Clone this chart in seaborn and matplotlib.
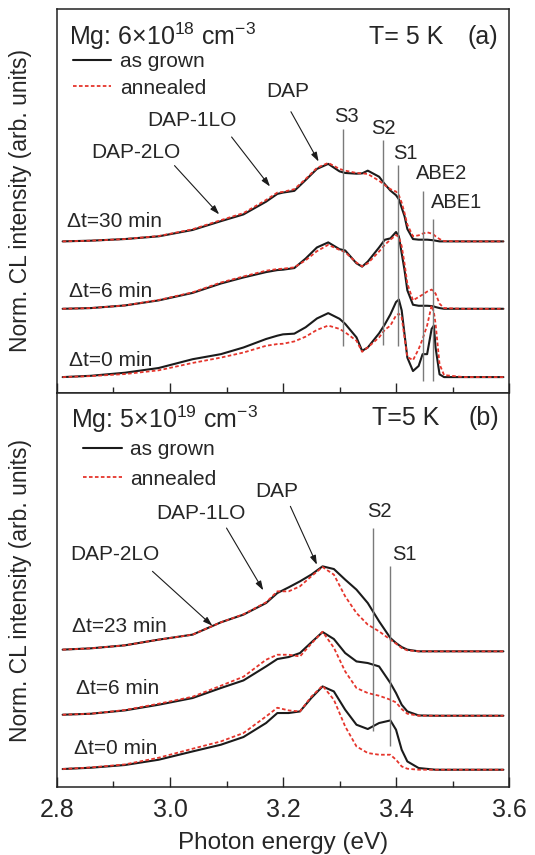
import numpy as np
import pandas as pd
import matplotlib
matplotlib.use("Agg")
import matplotlib.pyplot as plt
from matplotlib.ticker import MultipleLocator
import seaborn as sns

sns.set_style("ticks")
plt.rcParams['font.family'] = ['Liberation Sans', 'DejaVu Sans']
plt.rcParams['mathtext.fontset'] = 'custom'
plt.rcParams['mathtext.rm'] = 'Liberation Sans'
plt.rcParams['mathtext.it'] = 'Liberation Sans:italic'

# ---- panel (a): Mg 6e18 ----
energy_a = [2.81, 2.86, 2.92, 2.98, 3.04, 3.09, 3.13, 3.17, 3.19, 3.20, 3.22, 3.24, 3.26,
            3.28, 3.30, 3.31, 3.33, 3.34, 3.35, 3.37, 3.38, 3.39, 3.40, 3.405, 3.41, 3.415,
            3.42, 3.43, 3.44, 3.447, 3.455, 3.463, 3.467, 3.47, 3.477, 3.485, 3.52, 3.59]
grown_a_30 = [0, 0.7, 2.3, 5, 11.3, 20, 26.7, 39.3, 47, 48.3, 50, 60.7, 71.7, 76.7, 69.3, 67.7,
              67, 67.3, 70, 64, 56.7, 50.3, 45.7, 41.7, 33.3, 25, 12.3, 2.3, 1.7, 1.7, 1.7, 1.3,
              1, 0.7, 0, 0, 0, 0]
annealed_a_30 = [0, 0.7, 2.3, 5.3, 12, 21, 28, 41, 48.3, 49, 51.7, 61.7, 72.7, 77.7, 71.7, 70,
                 67.7, 67.3, 66.7, 60, 55.7, 51.7, 49.3, 45.7, 38.3, 28.3, 16.7, 5, 6, 7.7, 9,
                 7.7, 6.5, 5, 2.3, 0.3, 0, 0]
grown_a_6 = [0, 0.7, 3.3, 8.3, 15.7, 25, 31, 36.3, 38.3, 38.7, 40.3, 49.7, 60.7, 65.7, 59, 57.7,
             45, 41.7, 46.7, 60.7, 68.3, 69.7, 76, 71.7, 55, 38.3, 18.3, 4, 3, 3, 3, 2.7, 2.3,
             1.7, 0.7, 0, 0, 0]
annealed_a_6 = [0, 0.7, 3.3, 8.7, 16.3, 26, 32, 37.7, 39.3, 39.7, 41, 48, 57, 63.3, 58.3, 56,
                45.7, 42, 45, 56.7, 63.3, 68.3, 73, 71, 62, 45, 25, 8.3, 11.7, 14, 17, 19, 17,
                15, 5, 0.7, 0, 0]
grown_a_0 = [0, 1.3, 4.3, 9, 17.7, 22.7, 29.3, 37.7, 41, 42.3, 43, 49.3, 58, 63.3, 57.7, 52.7,
             39.3, 26, 29.3, 43.3, 52, 62, 74.3, 76.7, 66, 42.7, 19.3, 6, 11, 22.7, 22.7, 47.7,
             51, 29, 2.7, 0, 0, 0]
annealed_a_0 = [0, 1, 3, 6.7, 14, 19.3, 24.3, 31, 32.7, 33, 35.3, 40, 46.7, 51, 47.7, 44.3, 36,
                25, 29.3, 39.3, 46.7, 51, 61, 62.7, 59, 39.3, 20, 16.7, 27.7, 37.7, 51, 71, 64,
                52.7, 12.7, 2, 0, 0]
delays_a = ["\u0394t=30 min", "\u0394t=6 min", "\u0394t=0 min"]
offsets_a = [150, 83.3, 15.7]

# ---- panel (b): Mg 5e19 ----
energy_b = [2.81, 2.86, 2.92, 2.98, 3.04, 3.09, 3.13, 3.17, 3.19, 3.21, 3.23, 3.25, 3.27,
            3.29, 3.31, 3.33, 3.35, 3.37, 3.39, 3.40, 3.41, 3.42, 3.44, 3.47, 3.52, 3.59]
grown_b_23 = [1.7, 3, 6, 11.7, 16.7, 29, 36.7, 48.3, 58.3, 64, 70, 76.7, 85, 82.3, 71.7, 61.7,
              48.3, 30, 13.3, 8.3, 4.3, 1.7, 0, 0, 0, 0]
annealed_b_23 = [1.7, 3, 6, 11.7, 16.7, 29, 37, 49, 60, 60, 65, 75, 84.3, 76.7, 55, 38.3, 26.7,
                 20, 11.7, 7.7, 3.3, 1, 0, 0, 0, 0]
grown_b_6 = [1, 2, 5.3, 11, 17.7, 27.7, 35.3, 49.3, 56.7, 58.7, 62.7, 73.3, 83.7, 76.7, 62.7,
             54.3, 52.7, 49.3, 32.7, 22.7, 11, 4.3, 0.3, 0, 0, 0]
annealed_b_6 = [1, 2, 5.7, 12, 19, 30, 39, 56, 61, 61, 59.3, 72, 84, 68, 44.3, 27.7, 22.7, 20,
                16, 13.3, 6.7, 2, 0, 0, 0, 0]
grown_b_0 = [0.7, 2, 4.7, 10, 18.3, 25, 32.7, 46.7, 56.7, 56.7, 58.3, 71.7, 83.3, 78.3, 60, 45,
             40.7, 46.7, 49.3, 40, 20, 8.3, 1.7, 0, 0, 0]
annealed_b_0 = [0.7, 2.3, 5.3, 12, 21, 28.3, 36.7, 53.3, 62, 59.3, 58.3, 73, 84, 70, 43.3, 23.3,
                16.7, 15, 15, 10, 3.3, 1, 0, 0, 0, 0]
delays_b = ["\u0394t=23 min", "\u0394t=6 min", "\u0394t=0 min"]
offsets_b = [135.7, 71.3, 17.3]

BLACK = "#1b1b1b"
RED = "#e5352c"
GRAY = "#7a7a7a"


def build_frame(energy, grown, annealed, delays, offsets):
    rows = []
    for g, a, d, off in zip(grown, annealed, delays, offsets):
        for e, yg, ya in zip(energy, g, a):
            rows.append((e, yg + off, "as grown", d))
            rows.append((e, ya + off, "annealed", d))
    return pd.DataFrame(rows, columns=["energy", "signal", "sample", "delay"])


def draw_panel(ax, df, delays):
    for i, d in enumerate(delays):
        sub = df[df["delay"] == d]
        sns.lineplot(data=sub[sub["sample"] == "as grown"], x="energy", y="signal", ax=ax,
                     color=BLACK, lw=1.5, estimator=None,
                     label="as grown" if i == 0 else None)
        sns.lineplot(data=sub[sub["sample"] == "annealed"], x="energy", y="signal", ax=ax,
                     color=RED, lw=1.3, linestyle=(0, (2, 1.3)), estimator=None,
                     label="annealed" if i == 0 else None)


def style_axes(ax, ylim):
    ax.set_xlim(2.8, 3.6)
    ax.set_ylim(*ylim)
    ax.set_yticks([])
    ax.xaxis.set_major_locator(MultipleLocator(0.2))
    ax.xaxis.set_minor_locator(MultipleLocator(0.1))
    ax.tick_params(axis="x", which="major", direction="in", length=7, width=1,
                   labelsize=18, pad=8, top=False)
    ax.tick_params(axis="x", which="minor", direction="in", length=4, width=1, top=False)
    for s in ax.spines.values():
        s.set_visible(True)
        s.set_linewidth(1.1)
        s.set_color("#222222")
    ax.set_ylabel("Norm. CL intensity (arb. units)", fontsize=16.5)
    ax.yaxis.set_label_coords(-0.055, 0.5)


def arrow(ax, tail, tip):
    ax.annotate("", xy=tip, xytext=tail,
                arrowprops=dict(arrowstyle="-|>,head_length=0.55,head_width=0.18",
                                color=BLACK, lw=0.8, shrinkA=0, shrinkB=0))


fig = plt.figure(figsize=(5.35, 8.55), dpi=100)
ax_a = fig.add_axes([0.1065, 0.5404, 0.845, 0.4491])
ax_b = fig.add_axes([0.1065, 0.0795, 0.845, 0.4608])

# panel (a)
df_a = build_frame(energy_a, [grown_a_30, grown_a_6, grown_a_0],
                   [annealed_a_30, annealed_a_6, annealed_a_0], delays_a, offsets_a)
draw_panel(ax_a, df_a, delays_a)
style_axes(ax_a, (0, 380))
ax_a.set_xlabel("")
ax_a.tick_params(axis="x", labelbottom=False)
ax_a.legend(loc="upper left", bbox_to_anchor=(0.035, 0.887), frameon=False, fontsize=15,
            handlelength=1.85, handletextpad=0.4, labelspacing=0.35, borderpad=0,
            borderaxespad=0)
ax_a.text(2.821, 353, "Mg: 6\u00d710$^{18}$ cm$^{-3}$", fontsize=18, va="center")
ax_a.text(3.352, 352, "T= 5 K", fontsize=18, va="center")
ax_a.text(3.526, 352, "(a)", fontsize=18, va="center")
for lab, x, y in zip(delays_a, [2.818, 2.821, 2.821], [170, 100, 32.3]):
    ax_a.text(x, y, lab, fontsize=15, va="center")

ax_a.text(2.940, 238.3, "DAP-2LO", fontsize=15, ha="center", va="center")
arrow(ax_a, (3.008, 225), (3.087, 176.7))
ax_a.text(3.038, 270, "DAP-1LO", fontsize=15, ha="center", va="center")
arrow(ax_a, (3.109, 253.3), (3.177, 204.3))
ax_a.text(3.208, 298.3, "DAP", fontsize=15, ha="center", va="center")
arrow(ax_a, (3.214, 278.3), (3.263, 229))

marks_a = ["S3", "S2", "S1", "ABE2", "ABE1"]
mark_x_a = [3.306, 3.377, 3.404, 3.448, 3.465]
mark_top_a = [261.7, 250, 225.7, 200, 172.3]
mark_bot_a = [46.7, 47.7, 46.7, 11.7, 11.7]
lab_pos_a = [(3.313, 273.3), (3.377, 261.7), (3.416, 237.3), (3.480, 216.7), (3.508, 188.3)]
for m, x, t, b, (lx, ly) in zip(marks_a, mark_x_a, mark_top_a, mark_bot_a, lab_pos_a):
    ax_a.vlines(x, b, t, color=GRAY, lw=1)
    ax_a.text(lx, ly, m, fontsize=14.5, ha="center", va="center")

# panel (b)
df_b = build_frame(energy_b, [grown_b_23, grown_b_6, grown_b_0],
                   [annealed_b_23, annealed_b_6, annealed_b_0], delays_b, offsets_b)
draw_panel(ax_b, df_b, delays_b)
style_axes(ax_b, (0, 394))
ax_b.set_xlabel("Photon energy (eV)", fontsize=17.5, labelpad=7)
ax_b.legend(loc="upper left", bbox_to_anchor=(0.058, 0.88), frameon=False, fontsize=15,
            handlelength=1.85, handletextpad=0.4, labelspacing=0.5, borderpad=0,
            borderaxespad=0)
ax_b.text(2.824, 368, "Mg: 5\u00d710$^{19}$ cm$^{-3}$", fontsize=18, va="center")
ax_b.text(3.358, 369, "T=5 K", fontsize=18, va="center")
ax_b.text(3.528, 369, "(b)", fontsize=18, va="center")
for lab, x, y in zip(delays_b, [2.827, 2.833, 2.830], [160.7, 99, 39]):
    ax_b.text(x, y, lab, fontsize=15, va="center")

ax_b.text(2.903, 232.3, "DAP-2LO", fontsize=15, ha="center", va="center")
arrow(ax_b, (2.969, 215.7), (3.075, 161.3))
ax_b.text(3.055, 274, "DAP-1LO", fontsize=15, ha="center", va="center")
arrow(ax_b, (3.100, 259), (3.165, 196.7))
ax_b.text(3.189, 295.7, "DAP", fontsize=15, ha="center", va="center")
arrow(ax_b, (3.213, 280.7), (3.260, 222.3))

marks_b = ["S2", "S1"]
mark_x_b = [3.359, 3.390]
mark_top_b = [259, 220.7]
mark_bot_b = [55.7, 40.7]
lab_pos_b = [(3.370, 275.7), (3.414, 232.3)]
for m, x, t, b, (lx, ly) in zip(marks_b, mark_x_b, mark_top_b, mark_bot_b, lab_pos_b):
    ax_b.vlines(x, b, t, color=GRAY, lw=1)
    ax_b.text(lx, ly, m, fontsize=14.5, ha="center", va="center")

fig.savefig("out.png", dpi=100)
